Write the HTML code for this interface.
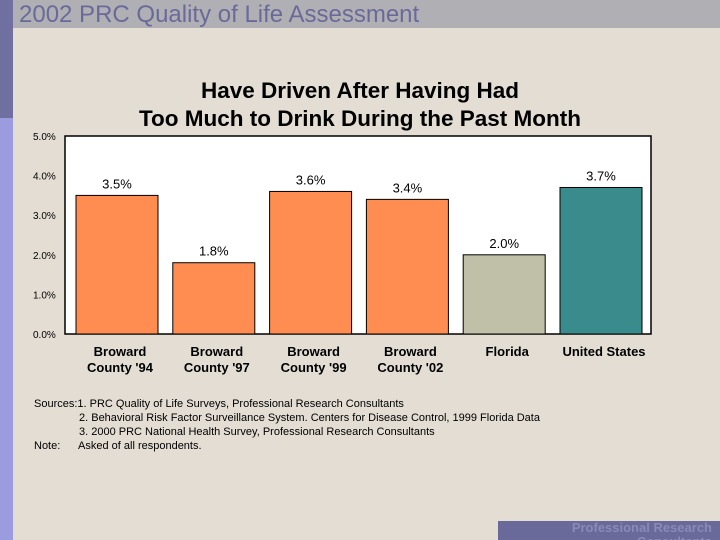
<!DOCTYPE html>
<html><head><meta charset="utf-8"><style>
body{margin:0;width:720px;height:540px;overflow:hidden;background:#e3ddd3;font-family:"Liberation Sans",sans-serif;position:relative}
.abs{position:absolute}
</style></head><body>
<div class="abs" style="left:0;top:0;width:13px;height:118px;background:#6f6fa0"></div>
<div class="abs" style="left:0;top:118px;width:13px;height:422px;background:#9b9be0"></div>
<div class="abs" style="left:13px;top:0;width:707px;height:28px;background:#b0b0b4"></div>
<div class="abs" style="left:19px;top:1px;font-size:24px;color:#6a6a9a">2002 PRC Quality of Life Assessment</div>
<div class="abs" style="left:40px;width:640px;top:77px;text-align:center;font-size:22.5px;font-weight:bold;line-height:28px;color:#000">Have Driven After Having Had<br>Too Much to Drink During the Past Month</div>
<svg class="abs" style="left:0;top:0" width="720" height="540" id="chart"></svg>
<div class="abs" style="left:34px;top:397px;font-size:11px;line-height:14px;color:#000">
<div>Sources:1. PRC Quality of Life Surveys, Professional Research Consultants</div>
<div style="padding-left:45px">2. Behavioral Risk Factor Surveillance System. Centers for Disease Control, 1999 Florida Data</div>
<div style="padding-left:45px">3. 2000 PRC National Health Survey, Professional Research Consultants</div>
<div>Note:&nbsp;&nbsp;&nbsp;&nbsp;&nbsp; Asked of all respondents.</div>
</div>
<div class="abs" style="left:498px;top:521px;width:222px;height:19px;background:#6a6a9a;overflow:hidden">
<div style="text-align:right;padding-right:8px;font-size:13px;font-weight:bold;color:#8a8ab8;line-height:14px">Professional Research<br>Consultants</div></div>
<script>
const categories=[["Broward","County '94"],["Broward","County '97"],["Broward","County '99"],["Broward","County '02"],["Florida"],["United States"]];
const values=[3.5,1.8,3.6,3.4,2.0,3.7];
const valueLabels=["3.5%","1.8%","3.6%","3.4%","2.0%","3.7%"];
const barColors=["#ff8c50","#ff8c50","#ff8c50","#ff8c50","#c0c0a8","#3a8c8c"];
const yTicks=[0,1,2,3,4,5];
const yTickLabels=["0.0%","1.0%","2.0%","3.0%","4.0%","5.0%"];
const svg=document.getElementById('chart');const NS='http://www.w3.org/2000/svg';
const x0=65,x1=651,yTop=136,yBot=334,yMax=5;
const y=v=>yBot-(v/yMax)*(yBot-yTop);
const slot=96.8;
function mk(t,a,txt){const e=document.createElementNS(NS,t);for(const k in a)e.setAttribute(k,a[k]);if(txt!=null)e.textContent=txt;svg.appendChild(e);return e;}
const pa=mk('rect',{x:x0,y:yTop,width:x1-x0,height:yBot-yTop,fill:'#ffffff',stroke:'#000','stroke-width':1.5});


yTicks.forEach((t,i)=>{const e=mk('text',{x:33,y:y(t)+4,'font-size':10,fill:'#000'},yTickLabels[i]);

});
values.forEach((v,i)=>{const bx=x0+11+slot*i;
const r=mk('rect',{x:bx,y:y(v),width:82,height:yBot-y(v),fill:barColors[i],stroke:'#000','stroke-width':1});


const l=mk('text',{x:bx+41,y:y(v)-7,'font-size':13,'text-anchor':'middle',fill:'#000'},valueLabels[i]);


categories[i].forEach((ln,j)=>{const c=mk('text',{x:bx+44,y:356+j*16,'font-size':13,'font-weight':'bold','text-anchor':'middle',fill:'#000'},ln);

});});
</script>
</body></html>
